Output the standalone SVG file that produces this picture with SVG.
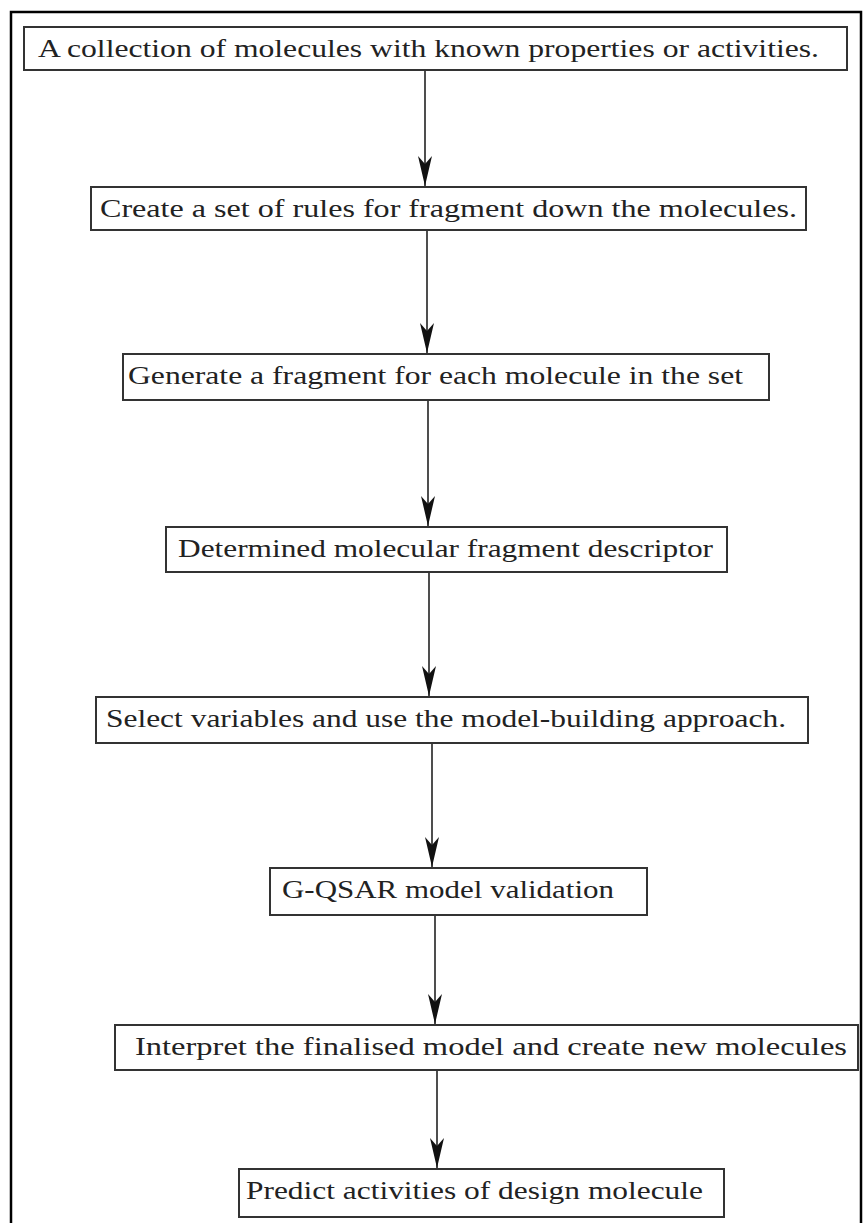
<svg xmlns="http://www.w3.org/2000/svg" width="864" height="1223" viewBox="0 0 864 1223">
<defs>
<style>
.box{fill:#fff;stroke:#333;stroke-width:2}
.t{font-family:"Liberation Serif","Times New Roman",serif;font-size:25px;fill:#222}
.c{stroke:#222;stroke-width:1.6;fill:none}
.frame{stroke:#000;stroke-width:2.5;fill:none}
</style>
<marker id="ah" markerUnits="userSpaceOnUse" viewBox="-31 -8 32 16" refX="0" refY="0" markerWidth="32" markerHeight="16" orient="auto">
<path d="M0,0 L-30,-7 L-22,0 L-30,7 Z" fill="#111"/>
</marker>
</defs>
<rect width="864" height="1223" fill="#fff"/>
<path class="frame" d="M11,1223 V12 H861 V1223"/>
<g id="connectors">
<line class="c" x1="425" y1="70" x2="425" y2="186" marker-end="url(#ah)"/>
<line class="c" x1="427" y1="230" x2="427" y2="353" marker-end="url(#ah)"/>
<line class="c" x1="428" y1="400" x2="428" y2="526" marker-end="url(#ah)"/>
<line class="c" x1="429" y1="572" x2="429" y2="696" marker-end="url(#ah)"/>
<line class="c" x1="432" y1="743" x2="432" y2="867" marker-end="url(#ah)"/>
<line class="c" x1="435" y1="915" x2="435" y2="1024" marker-end="url(#ah)"/>
<line class="c" x1="437" y1="1070" x2="437" y2="1168" marker-end="url(#ah)"/>
</g>
<g id="n1"><rect class="box" x="24" y="27" width="823" height="43"/><text class="t" x="38" y="57" textLength="781" lengthAdjust="spacingAndGlyphs">A collection of molecules with known properties or activities.</text></g>
<g id="n2"><rect class="box" x="91" y="187" width="715" height="43"/><text class="t" x="100" y="217" textLength="697" lengthAdjust="spacingAndGlyphs">Create a set of rules for fragment down the molecules.</text></g>
<g id="n3"><rect class="box" x="123" y="354" width="646" height="46"/><text class="t" x="128" y="384" textLength="615" lengthAdjust="spacingAndGlyphs">Generate a fragment for each molecule in the set</text></g>
<g id="n4"><rect class="box" x="166" y="527" width="561" height="45"/><text class="t" x="178" y="557" textLength="535" lengthAdjust="spacingAndGlyphs">Determined molecular fragment descriptor</text></g>
<g id="n5"><rect class="box" x="96" y="697" width="712" height="46"/><text class="t" x="106" y="727" textLength="680" lengthAdjust="spacingAndGlyphs">Select variables and use the model-building approach.</text></g>
<g id="n6"><rect class="box" x="270" y="868" width="377" height="47"/><text class="t" x="282" y="898" textLength="332" lengthAdjust="spacingAndGlyphs">G-QSAR model validation</text></g>
<g id="n7"><rect class="box" x="115" y="1025" width="743" height="45"/><text class="t" x="135" y="1055" textLength="712" lengthAdjust="spacingAndGlyphs">Interpret the finalised model and create new molecules</text></g>
<g id="n8"><rect class="box" x="239" y="1169" width="485" height="48"/><text class="t" x="246" y="1199" textLength="457" lengthAdjust="spacingAndGlyphs">Predict activities of design molecule</text></g>
</svg>
